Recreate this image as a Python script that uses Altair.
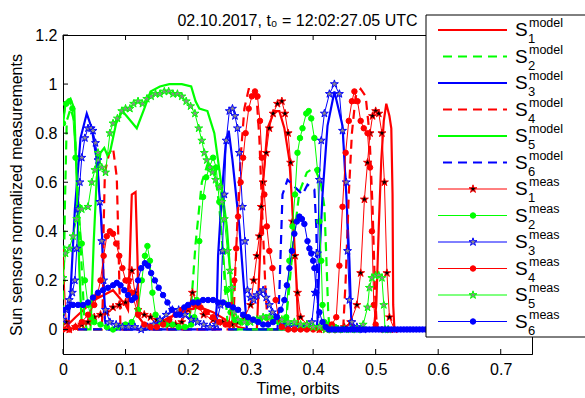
import altair as alt
import pandas as pd

# ---------------------------------------------------------------------------
# Sun sensor signals: (time [orbits], normalized value)
# ---------------------------------------------------------------------------
S1_MODEL = [(0, 0.0), (0.02, 0.05), (0.05, 0.12), (0.08, 0.16), (0.1, 0.1), (0.104, 0.08),
            (0.107, 0.3), (0.11, 0.55), (0.116, 0.56), (0.119, 0.3), (0.121, 0.05), (0.13, 0.02),
            (0.15, 0.02), (0.17, 0.05), (0.2, 0.08), (0.22, 0.09), (0.24, 0.07), (0.26, 0.04),
            (0.28, 0.01), (0.3, 0.0), (0.31, 0.0), (0.315, 0.3), (0.32, 0.6), (0.327, 0.82),
            (0.338, 0.89), (0.346, 0.89), (0.354, 0.82), (0.362, 0.69), (0.367, 0.49),
            (0.373, 0.21), (0.376, 0.02), (0.38, 0.0), (0.497, 0.0), (0.501, 0.1), (0.505, 0.42),
            (0.509, 0.69), (0.513, 0.85), (0.517, 0.92), (0.522, 0.87), (0.525, 0.82),
            (0.527, 0.55), (0.528, 0.1), (0.53, 0.0), (0.75, 0.0)]

S2_MODEL = [(0, 0.0), (0.003, 0.5), (0.006, 0.85), (0.012, 0.9), (0.018, 0.85), (0.024, 0.55),
            (0.03, 0.25), (0.034, 0.05), (0.038, 0.0), (0.2, 0.0), (0.205, 0.1), (0.212, 0.35),
            (0.222, 0.6), (0.232, 0.68), (0.242, 0.66), (0.25, 0.5), (0.256, 0.3), (0.261, 0.1),
            (0.264, 0.0), (0.355, 0.0), (0.36, 0.12), (0.368, 0.35), (0.378, 0.56), (0.39, 0.64),
            (0.402, 0.66), (0.412, 0.6), (0.418, 0.5), (0.421, 0.3), (0.424, 0.08), (0.426, 0.0),
            (0.75, 0.0)]

S3_MODEL = [(0, 0.0), (0.008, 0.0), (0.012, 0.15), (0.019, 0.49), (0.028, 0.78), (0.038, 0.88),
            (0.046, 0.82), (0.054, 0.69), (0.062, 0.42), (0.067, 0.04), (0.07, 0.0), (0.243, 0.0),
            (0.246, 0.1), (0.248, 0.3), (0.254, 0.55), (0.26, 0.75), (0.265, 0.81), (0.271, 0.69),
            (0.282, 0.42), (0.29, 0.15), (0.294, 0.0), (0.405, 0.0), (0.407, 0.04), (0.41, 0.28),
            (0.415, 0.55), (0.423, 0.83), (0.434, 0.97), (0.447, 0.83), (0.453, 0.55),
            (0.458, 0.28), (0.461, 0.04), (0.463, 0.0), (0.75, 0.0)]

S4_MODEL = [(0, 0.0), (0.062, 0.0), (0.064, 0.15), (0.065, 0.42), (0.067, 0.64), (0.074, 0.72),
            (0.08, 0.74), (0.086, 0.62), (0.088, 0.42), (0.09, 0.2), (0.092, 0.0), (0.272, 0.0),
            (0.275, 0.2), (0.279, 0.45), (0.284, 0.7), (0.29, 0.9), (0.297, 0.98), (0.305, 0.98),
            (0.31, 0.93), (0.314, 0.78), (0.319, 0.45), (0.324, 0.15), (0.328, 0.0), (0.448, 0.0),
            (0.452, 0.2), (0.457, 0.55), (0.462, 0.8), (0.468, 0.95), (0.476, 0.98), (0.484, 0.95),
            (0.49, 0.8), (0.495, 0.5), (0.499, 0.15), (0.502, 0.0), (0.75, 0.0)]

S5_MODEL = [(0, 0.84), (0.004, 0.92), (0.012, 0.94), (0.018, 0.9), (0.022, 0.6), (0.026, 0.25),
            (0.03, 0.02), (0.034, 0.0), (0.044, 0.0), (0.049, 0.35), (0.054, 0.62), (0.06, 0.72),
            (0.066, 0.74), (0.071, 0.71), (0.075, 0.72), (0.085, 0.84), (0.095, 0.89),
            (0.105, 0.86), (0.118, 0.82), (0.13, 0.9), (0.14, 0.97), (0.155, 0.99), (0.17, 1.0),
            (0.19, 1.0), (0.205, 0.99), (0.212, 0.93), (0.218, 0.9), (0.231, 0.89), (0.242, 0.8),
            (0.25, 0.65), (0.262, 0.42), (0.268, 0.21), (0.271, 0.04), (0.274, 0.0), (0.75, 0.0)]

S6_MODEL = [(0, 0.0), (0.343, 0.0), (0.346, 0.15), (0.351, 0.55), (0.359, 0.61), (0.367, 0.59),
            (0.375, 0.57), (0.383, 0.55), (0.391, 0.59), (0.397, 0.58), (0.402, 0.57),
            (0.405, 0.42), (0.407, 0.15), (0.409, 0.0), (0.75, 0.0)]

S1_MEAS = [(0, 0.31), (0.005, 0.03), (0.01, 0.0), (0.02, 0.01), (0.03, 0.02), (0.04, 0.03),
           (0.05, 0.05), (0.06, 0.06), (0.07, 0.07), (0.08, 0.09), (0.09, 0.1), (0.1, 0.11),
           (0.105, 0.2), (0.11, 0.24), (0.115, 0.15), (0.12, 0.08), (0.13, 0.06), (0.14, 0.05),
           (0.15, 0.04), (0.16, 0.03), (0.17, 0.02), (0.18, 0.02), (0.19, 0.03), (0.2, 0.08),
           (0.207, 0.15), (0.215, 0.1), (0.225, 0.06), (0.24, 0.04), (0.255, 0.03), (0.27, 0.02),
           (0.28, 0.03), (0.29, 0.05), (0.3, 0.1), (0.305, 0.2), (0.31, 0.3), (0.314, 0.38),
           (0.317, 0.5), (0.32, 0.6), (0.325, 0.72), (0.33, 0.82), (0.336, 0.88), (0.343, 0.92),
           (0.35, 0.93), (0.355, 0.88), (0.36, 0.8), (0.364, 0.68), (0.367, 0.44), (0.371, 0.3),
           (0.375, 0.15), (0.38, 0.05), (0.39, 0.02), (0.4, 0.01), (0.41, 0.0), (0.42, 0.0),
           (0.43, 0.0), (0.44, 0.0), (0.45, 0.01), (0.46, 0.03), (0.47, 0.1), (0.476, 0.23),
           (0.482, 0.53), (0.487, 0.68), (0.491, 0.8), (0.495, 0.87), (0.5, 0.89), (0.505, 0.88),
           (0.51, 0.8), (0.514, 0.6), (0.518, 0.23), (0.522, 0.05), (0.53, 0.0)]

S2_MEAS = [(0, 0.84), (0.005, 0.92), (0.01, 0.93), (0.015, 0.9), (0.02, 0.7), (0.025, 0.5),
           (0.03, 0.35), (0.035, 0.2), (0.04, 0.1), (0.045, 0.05), (0.05, 0.03), (0.06, 0.02),
           (0.07, 0.01), (0.08, 0.0), (0.09, 0.01), (0.1, 0.02), (0.11, 0.03), (0.12, 0.08),
           (0.126, 0.2), (0.131, 0.3), (0.135, 0.34), (0.139, 0.28), (0.143, 0.15), (0.148, 0.06),
           (0.155, 0.03), (0.165, 0.02), (0.175, 0.02), (0.185, 0.01), (0.195, 0.01),
           (0.205, 0.02), (0.21, 0.05), (0.214, 0.12), (0.218, 0.36), (0.224, 0.54),
           (0.229, 0.62), (0.234, 0.66), (0.24, 0.7), (0.245, 0.66), (0.25, 0.52), (0.256, 0.32),
           (0.262, 0.16), (0.268, 0.07), (0.275, 0.04), (0.285, 0.03), (0.295, 0.03),
           (0.305, 0.04), (0.315, 0.04), (0.325, 0.05), (0.335, 0.04), (0.345, 0.03),
           (0.352, 0.02), (0.357, 0.05), (0.362, 0.28), (0.367, 0.42), (0.371, 0.55),
           (0.375, 0.72), (0.379, 0.78), (0.383, 0.82), (0.389, 0.88), (0.393, 0.89),
           (0.397, 0.86), (0.402, 0.78), (0.407, 0.65), (0.41, 0.44), (0.413, 0.28),
           (0.415, 0.1), (0.418, 0.03), (0.425, 0.02), (0.435, 0.01), (0.445, 0.0)]

S3_MEAS = [(0, 0.04), (0.005, 0.08), (0.01, 0.12), (0.015, 0.15), (0.019, 0.2), (0.022, 0.33),
           (0.024, 0.49), (0.027, 0.6), (0.03, 0.7), (0.035, 0.78), (0.04, 0.82), (0.045, 0.82),
           (0.048, 0.81), (0.052, 0.76), (0.056, 0.69), (0.059, 0.52), (0.062, 0.36),
           (0.065, 0.2), (0.068, 0.08), (0.075, 0.03), (0.085, 0.02), (0.095, 0.01),
           (0.105, 0.01), (0.115, 0.01), (0.125, 0.0), (0.135, 0.01), (0.145, 0.02),
           (0.155, 0.04), (0.165, 0.06), (0.175, 0.08), (0.185, 0.08), (0.195, 0.06),
           (0.205, 0.04), (0.215, 0.03), (0.225, 0.02), (0.235, 0.01), (0.245, 0.02),
           (0.252, 0.1), (0.255, 0.32), (0.258, 0.55), (0.261, 0.77), (0.266, 0.89),
           (0.271, 0.9), (0.275, 0.87), (0.279, 0.82), (0.282, 0.72), (0.287, 0.5),
           (0.291, 0.36), (0.295, 0.16), (0.3, 0.13), (0.305, 0.12), (0.31, 0.14), (0.315, 0.15),
           (0.32, 0.16), (0.325, 0.13), (0.33, 0.1), (0.335, 0.07), (0.34, 0.05), (0.35, 0.03),
           (0.36, 0.02), (0.37, 0.01), (0.38, 0.01), (0.39, 0.01), (0.398, 0.03), (0.403, 0.15),
           (0.407, 0.31), (0.41, 0.61), (0.413, 0.77), (0.418, 0.88), (0.426, 0.96),
           (0.434, 1.0), (0.442, 0.96), (0.447, 0.81), (0.453, 0.6), (0.455, 0.32),
           (0.458, 0.12), (0.462, 0.03), (0.47, 0.01), (0.48, 0.0)]

S4_MEAS = [(0, 0.0), (0.01, 0.0), (0.02, 0.01), (0.03, 0.03), (0.04, 0.06), (0.05, 0.1),
           (0.055, 0.14), (0.06, 0.2), (0.065, 0.3), (0.07, 0.38), (0.075, 0.4), (0.08, 0.39),
           (0.085, 0.35), (0.09, 0.3), (0.095, 0.25), (0.1, 0.2), (0.105, 0.2), (0.11, 0.15),
           (0.12, 0.06), (0.13, 0.02), (0.14, 0.01), (0.15, 0.01), (0.16, 0.02), (0.17, 0.04),
           (0.18, 0.06), (0.19, 0.08), (0.2, 0.09), (0.21, 0.1), (0.22, 0.09), (0.23, 0.07),
           (0.24, 0.05), (0.25, 0.03), (0.26, 0.02), (0.265, 0.02), (0.27, 0.1), (0.274, 0.2),
           (0.277, 0.33), (0.28, 0.46), (0.284, 0.6), (0.288, 0.7), (0.292, 0.8), (0.297, 0.9),
           (0.302, 0.95), (0.307, 0.97), (0.311, 0.95), (0.315, 0.85), (0.318, 0.7),
           (0.322, 0.55), (0.326, 0.42), (0.33, 0.32), (0.335, 0.25), (0.34, 0.12),
           (0.345, 0.04), (0.35, 0.01), (0.36, 0.0), (0.37, 0.0), (0.38, 0.0), (0.39, 0.0),
           (0.4, 0.0), (0.41, 0.0), (0.42, 0.01), (0.43, 0.02), (0.437, 0.05), (0.442, 0.26),
           (0.447, 0.5), (0.452, 0.72), (0.457, 0.85), (0.462, 0.93), (0.466, 0.97),
           (0.471, 0.93), (0.476, 0.85), (0.481, 0.82), (0.487, 0.8), (0.491, 0.66),
           (0.494, 0.4), (0.497, 0.1), (0.5, 0.02), (0.51, 0.0), (0.52, 0.0)]

S5_MEAS = [(0, 0.21), (0.004, 0.31), (0.01, 0.33), (0.016, 0.38), (0.022, 0.45), (0.03, 0.49),
           (0.04, 0.5), (0.046, 0.6), (0.051, 0.65), (0.056, 0.72), (0.062, 0.66), (0.068, 0.64),
           (0.075, 0.8), (0.08, 0.84), (0.087, 0.86), (0.094, 0.89), (0.1, 0.9), (0.107, 0.9),
           (0.113, 0.92), (0.12, 0.93), (0.127, 0.92), (0.134, 0.94), (0.141, 0.95),
           (0.148, 0.96), (0.155, 0.96), (0.162, 0.97), (0.169, 0.97), (0.176, 0.96),
           (0.183, 0.96), (0.19, 0.95), (0.197, 0.93), (0.204, 0.91), (0.211, 0.88),
           (0.217, 0.82), (0.222, 0.77), (0.226, 0.72), (0.23, 0.69), (0.235, 0.66),
           (0.239, 0.64), (0.244, 0.61), (0.25, 0.58), (0.254, 0.52), (0.258, 0.45),
           (0.263, 0.32), (0.267, 0.24), (0.27, 0.17), (0.274, 0.07), (0.28, 0.04), (0.29, 0.03),
           (0.3, 0.03), (0.31, 0.04), (0.32, 0.05), (0.33, 0.05), (0.34, 0.04), (0.35, 0.04),
           (0.36, 0.03), (0.37, 0.03), (0.38, 0.02), (0.39, 0.02), (0.4, 0.01), (0.41, 0.01),
           (0.42, 0.0), (0.43, 0.0), (0.44, 0.0), (0.45, 0.0), (0.46, 0.0), (0.47, 0.0),
           (0.48, 0.02), (0.487, 0.09), (0.49, 0.17), (0.494, 0.21), (0.5, 0.22), (0.505, 0.22),
           (0.51, 0.21), (0.513, 0.1), (0.515, 0.0), (0.52, 0.0)]

S6_MEAS = [(0, 0.08), (0.008, 0.09), (0.016, 0.1), (0.024, 0.1), (0.032, 0.1), (0.04, 0.11),
           (0.048, 0.13), (0.056, 0.15), (0.064, 0.16), (0.072, 0.17), (0.08, 0.18),
           (0.086, 0.19), (0.092, 0.18), (0.098, 0.16), (0.104, 0.14), (0.11, 0.12),
           (0.115, 0.13), (0.12, 0.2), (0.125, 0.25), (0.131, 0.27), (0.136, 0.26),
           (0.141, 0.23), (0.147, 0.2), (0.153, 0.17), (0.16, 0.14), (0.167, 0.11),
           (0.174, 0.08), (0.181, 0.06), (0.187, 0.06), (0.194, 0.09), (0.2, 0.1), (0.208, 0.11),
           (0.216, 0.11), (0.224, 0.12), (0.232, 0.12), (0.24, 0.12), (0.248, 0.11),
           (0.256, 0.11), (0.264, 0.1), (0.272, 0.09), (0.28, 0.08), (0.288, 0.06),
           (0.296, 0.05), (0.304, 0.04), (0.312, 0.03), (0.32, 0.02), (0.328, 0.02),
           (0.336, 0.03), (0.342, 0.05), (0.348, 0.08), (0.354, 0.12), (0.358, 0.18),
           (0.362, 0.25), (0.366, 0.32), (0.37, 0.39), (0.374, 0.44), (0.378, 0.46),
           (0.382, 0.45), (0.386, 0.43), (0.391, 0.36), (0.394, 0.33), (0.397, 0.31),
           (0.4, 0.28), (0.402, 0.25), (0.405, 0.15), (0.41, 0.07), (0.415, 0.03), (0.42, 0.01),
           (0.425, 0.0), (0.43, 0.0), (0.435, 0.0), (0.44, 0.0), (0.445, 0.0), (0.45, 0.0),
           (0.455, 0.0), (0.46, 0.0), (0.465, 0.0), (0.47, 0.0), (0.475, 0.0), (0.48, 0.0),
           (0.485, 0.0), (0.49, 0.0), (0.495, 0.0), (0.5, 0.0), (0.505, 0.0), (0.51, 0.0),
           (0.515, 0.0), (0.52, 0.0), (0.525, 0.0), (0.53, 0.0), (0.535, 0.0), (0.54, 0.0),
           (0.545, 0.0), (0.55, 0.0), (0.555, 0.0), (0.56, 0.0), (0.565, 0.0), (0.57, 0.0),
           (0.575, 0.0), (0.58, 0.0), (0.585, 0.0), (0.59, 0.0), (0.595, 0.0), (0.6, 0.0),
           (0.605, 0.0), (0.61, 0.0), (0.615, 0.0), (0.62, 0.0), (0.625, 0.0), (0.63, 0.0),
           (0.635, 0.0), (0.64, 0.0), (0.645, 0.0), (0.65, 0.0), (0.655, 0.0), (0.66, 0.0),
           (0.665, 0.0), (0.67, 0.0), (0.675, 0.0), (0.68, 0.0), (0.685, 0.0), (0.69, 0.0),
           (0.695, 0.0), (0.7, 0.0), (0.705, 0.0), (0.71, 0.0), (0.715, 0.0), (0.72, 0.0),
           (0.725, 0.0), (0.73, 0.0), (0.735, 0.0), (0.74, 0.0), (0.745, 0.0), (0.75, 0.0)]

X_TICKS = [0, 0.1, 0.2, 0.3, 0.4, 0.5, 0.6, 0.7]
Y_TICKS = [0, 0.2, 0.4, 0.6, 0.8, 1.0, 1.2]

TITLE = "02.10.2017, t\u2080 = 12:02:27.05 UTC"
X_TITLE = "Time, orbits"
Y_TITLE = "Sun sensors normalized measurements"

LEGEND_KIND = ["model", "model", "model", "model", "model", "model",
               "meas", "meas", "meas", "meas", "meas", "meas"]
LEGEND_INDEX = ["1", "2", "3", "4", "5", "6", "1", "2", "3", "4", "5", "6"]

# ---------------------------------------------------------------------------
# Styling
# ---------------------------------------------------------------------------
RED, GREEN, BLUE = "#ff0000", "#00ff00", "#0000ff"
GREY = "#8a8a8a"
FONT = "Liberation Sans"
W, H = 469, 319
DASH = [9, 6]
STAR = ("M0,-1L0.2245,-0.309L0.951,-0.309L0.363,0.118L0.588,0.809L0,0.382"
        "L-0.588,0.809L-0.363,0.118L-0.951,-0.309L-0.2245,-0.309Z")

# model curves: data, colour, dashed?
MODELS = [(S1_MODEL, RED, False), (S2_MODEL, GREEN, True), (S3_MODEL, BLUE, False),
          (S4_MODEL, RED, True), (S5_MODEL, GREEN, False), (S6_MODEL, BLUE, True)]
# measured curves: data, colour, marker shape, marker fill, marker size
MEASURED = [(S1_MEAS, RED, STAR, "#000000", 70), (S2_MEAS, GREEN, "circle", GREEN, 30),
            (S3_MEAS, BLUE, STAR, GREY, 70), (S4_MEAS, RED, "circle", RED, 30),
            (S5_MEAS, GREEN, STAR, GREY, 70), (S6_MEAS, BLUE, "circle", BLUE, 30)]

xs = alt.Scale(domain=[0, 0.75], nice=False, zero=False)
ys = alt.Scale(domain=[-0.1, 1.2], nice=False, zero=False)

X = alt.X("t:Q", scale=xs, axis=alt.Axis(
    values=X_TICKS, format="~g", ticks=False, grid=False, labelFlush=False,
    labelOverlap=False, labelPadding=7, domainColor="black", labelColor="black",
    labelFont=FONT, labelFontSize=16, title=X_TITLE, titleFont=FONT, titleFontSize=16,
    titleFontWeight="normal", titleColor="black", titlePadding=3))
Y = alt.Y("v:Q", scale=ys, axis=alt.Axis(
    values=Y_TICKS, format="~g", ticks=False, grid=False, labelFlush=False,
    labelOverlap=False, labelPadding=6, domainColor="black", labelColor="black",
    labelFont=FONT, labelFontSize=16, title=Y_TITLE, titleFont=FONT, titleFontSize=16,
    titleFontWeight="normal", titleColor="black", titlePadding=10))


def frame(pairs):
    return pd.DataFrame(pairs, columns=["t", "v"])


layers = []

# model curves
for pairs, color, dashed in MODELS:
    kw = dict(color=color, strokeWidth=2.2, clip=True)
    if dashed:
        kw["strokeDash"] = DASH
    layers.append(alt.Chart(frame(pairs)).mark_line(**kw).encode(x=X, y=Y))

# measured curves with markers
for pairs, color, shape, fill, size in MEASURED:
    df = frame(pairs)
    layers.append(alt.Chart(df).mark_line(color=color, strokeWidth=1, clip=True)
                  .encode(x=X, y=Y))
    layers.append(alt.Chart(df).mark_point(shape=shape, size=size, filled=True, fill=fill,
                                           stroke=color, strokeWidth=1, opacity=1, clip=True)
                  .encode(x=X, y=Y))

# inward-pointing tick marks on all four sides
xt = pd.DataFrame({"t": X_TICKS})
yt = pd.DataFrame({"v": Y_TICKS})
layers += [
    alt.Chart(xt).mark_rule(color="black").encode(x=X, y=alt.value(H), y2=alt.value(H - 5)),
    alt.Chart(xt).mark_rule(color="black").encode(x=X, y=alt.value(0), y2=alt.value(5)),
    alt.Chart(yt).mark_rule(color="black").encode(y=Y, x=alt.value(0), x2=alt.value(5)),
    alt.Chart(yt).mark_rule(color="black").encode(y=Y, x=alt.value(W), x2=alt.value(W - 5)),
]

# title above the axes
layers.append(
    alt.Chart(pd.DataFrame({"s": [TITLE]}))
    .mark_text(font=FONT, fontSize=16, align="center", baseline="alphabetic", color="black")
    .encode(x=alt.value(W / 2), y=alt.value(-9), text="s:N"))

# ---------------------------------------------------------------------------
# Legend box (drawn on top of the axes, right side)
# ---------------------------------------------------------------------------
ROW0, ROW_STEP = -5, 26.5
legend = pd.DataFrame({"kind": LEGEND_KIND, "idx": LEGEND_INDEX})
legend["row"] = range(len(legend))
legend["y"] = ROW0 + ROW_STEP * legend["row"]
legend["ys"] = legend["y"] + 6
legend["ysup"] = legend["y"] - 3
legend["ysub"] = legend["y"] + 13
legend["letter"] = "S"
legend["c"] = [m[1] for m in MODELS] + [m[1] for m in MEASURED]
legend["dashed"] = [m[2] for m in MODELS] + [False] * 6

LY = alt.Y("y:Q", scale=None)
LC = alt.Color("c:N", scale=None)

layers.append(
    alt.Chart(pd.DataFrame({"k": [0]}))
    .mark_rect(fill="white", stroke="black", strokeWidth=1)
    .encode(x=alt.value(363), x2=alt.value(560), y=alt.value(-20), y2=alt.value(302)))

model_rows = legend[legend["kind"] == "model"]
layers.append(alt.Chart(model_rows[~model_rows["dashed"]]).mark_rule(strokeWidth=2.2)
              .encode(x=alt.value(375), x2=alt.value(444), y=LY, color=LC))
layers.append(alt.Chart(model_rows[model_rows["dashed"]])
              .mark_rule(strokeWidth=2.2, strokeDash=DASH)
              .encode(x=alt.value(380), x2=alt.value(444), y=LY, color=LC))
layers.append(alt.Chart(legend[legend["kind"] == "meas"]).mark_rule(strokeWidth=1)
              .encode(x=alt.value(375), x2=alt.value(444), y=LY, color=LC))

for i, (pairs, color, shape, fill, size) in enumerate(MEASURED):
    row = legend.iloc[[6 + i]]
    layers.append(alt.Chart(row).mark_point(shape=shape, size=size, filled=True, fill=fill,
                                            stroke=color, strokeWidth=1, opacity=1)
                  .encode(x=alt.value(410), y=LY))

layers.append(alt.Chart(legend).mark_text(font=FONT, fontSize=19, align="left",
                                          baseline="alphabetic", color="black")
              .encode(x=alt.value(452), y=alt.Y("ys:Q", scale=None), text="letter:N"))
layers.append(alt.Chart(legend).mark_text(font=FONT, fontSize=12.5, align="left",
                                          baseline="alphabetic", color="black")
              .encode(x=alt.value(466), y=alt.Y("ysup:Q", scale=None), text="kind:N"))
layers.append(alt.Chart(legend).mark_text(font=FONT, fontSize=13, align="left",
                                          baseline="alphabetic", color="black")
              .encode(x=alt.value(465), y=alt.Y("ysub:Q", scale=None), text="idx:N"))

chart = (
    alt.layer(*layers)
    .properties(width=W, height=H,
                padding={"left": 63, "top": 35, "right": 53, "bottom": 44},
                autosize=alt.AutoSizeParams(type="none"))
    .configure(background="white")
    .configure_view(stroke="black", strokeWidth=1)
)

chart.save("out.html", embed_options={"renderer": "svg", "actions": False})
